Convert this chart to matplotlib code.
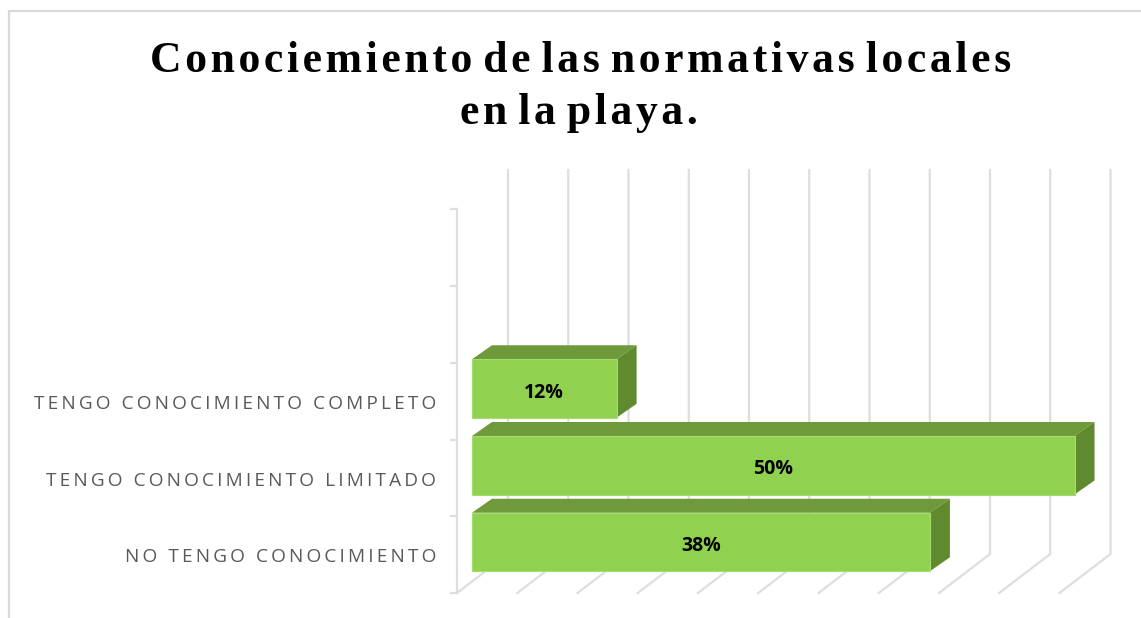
import matplotlib
matplotlib.use('Agg')
import matplotlib.pyplot as plt
from matplotlib.patches import Polygon

categories = ['NO TENGO CONOCIMIENTO', 'TENGO CONOCIMIENTO LIMITADO', 'TENGO CONOCIMIENTO COMPLETO']
values = [38, 50, 12]
value_labels = ['38%', '50%', '12%']
grid_ticks = [0, 5, 10, 15, 20, 25, 30, 35, 40, 45, 50]
title_lines = ['Conociemiento de las normativas locales', 'en la playa.']

FRONT = '#90D24F'
TOP = '#6F9A3B'
SIDE = '#5F8A2E'
GRID = '#DEDEDE'

def spaced(s, sep='\u2009'):
    return sep.join(s)

def spaced_words(s, sep='\u200a'):
    # letter spacing inside the words only, word gaps stay tight like the original
    return ' '.join(sep.join(w) for w in s.split(' '))

W, H = 1141, 618
fig = plt.figure(figsize=(W / 100, H / 100), dpi=100)
ax = fig.add_axes([0, 0, 1, 1])

# pixels per data unit, x is percent, y is category slot
sx = 12.05
sy = 76.75
x0 = 472
y0 = 542
ax.set_xlim(-x0 / sx, (W - x0) / sx)
ax.set_ylim(-(H - y0) / sy, y0 / sy)
ax.axis('off')

# depth offsets in data units
floor_dx = 51 / sx
floor_dy = 39 / sy
bar_dx = 20 / sx
bar_dy = 14 / sy
wall_x = -15 / sx          # front edge of floor
floor_y = -51 / sy         # front edge of floor
bar_h = 58.5 / sy
wall_top = 170

# gridlines: floor diagonals + back wall
for t in grid_ticks:
    fx = wall_x + t * 1.0
    back_x = fx + floor_dx
    back_y = floor_y + floor_dy
    ax.plot([fx, back_x, back_x], [floor_y, back_y, (y0 - wall_top) / sy],
            color=GRID, lw=1.6, zorder=1, solid_joinstyle='miter')

# left wall and its ticks
n_slots = 5
ax.plot([wall_x, wall_x], [floor_y, floor_y + n_slots], color=GRID, lw=1.6, zorder=1)
for i in range(n_slots + 1):
    ax.plot([wall_x - 6 / sx, wall_x], [floor_y + i] * 2, color=GRID, lw=1.6, zorder=1)

# bars
ypos = list(range(len(values)))
ax.barh(ypos, values, height=bar_h, color=FRONT, edgecolor='#A4DC70', linewidth=0.8, zorder=3)
for y, v, lab in zip(ypos, values, value_labels):
    t = y + bar_h / 2
    b = y - bar_h / 2
    ax.add_patch(Polygon([(0, t), (bar_dx, t + bar_dy), (v + bar_dx, t + bar_dy), (v, t)],
                         facecolor=TOP, edgecolor='none', zorder=2))
    ax.add_patch(Polygon([(v, b), (v, t), (v + bar_dx, t + bar_dy), (v + bar_dx, b + bar_dy)],
                         facecolor=SIDE, edgecolor='none', zorder=2))
    ax.text(v / 2, y - 4 / sy, lab, ha='center', va='center', fontsize=14,
            fontweight='bold', family='Open Sans', color='black', zorder=4)

# category labels
for y, c in zip(ypos, categories):
    ax.text(-36 / sx, y - 15.5 / sy, spaced(c), ha='right', va='center', fontsize=13.7,
            family='Open Sans', color='#595959')

# title
fig.text(581 / W, 1 - 61 / H, spaced_words(title_lines[0]), ha='center', va='center', fontsize=31.5,
         fontweight='bold', family=['Liberation Serif', 'DejaVu Serif'], color='black')
fig.text(579 / W, 1 - 113 / H, spaced_words(title_lines[1]), ha='center', va='center', fontsize=31.5,
         fontweight='bold', family=['Liberation Serif', 'DejaVu Serif'], color='black')

# chart frame
fig.add_artist(plt.Line2D([8.5 / W, 8.5 / W, 1], [0, 1 - 11 / H, 1 - 11 / H], color='#D9D9D9', lw=1.6))

fig.savefig('out.png', dpi=100)
